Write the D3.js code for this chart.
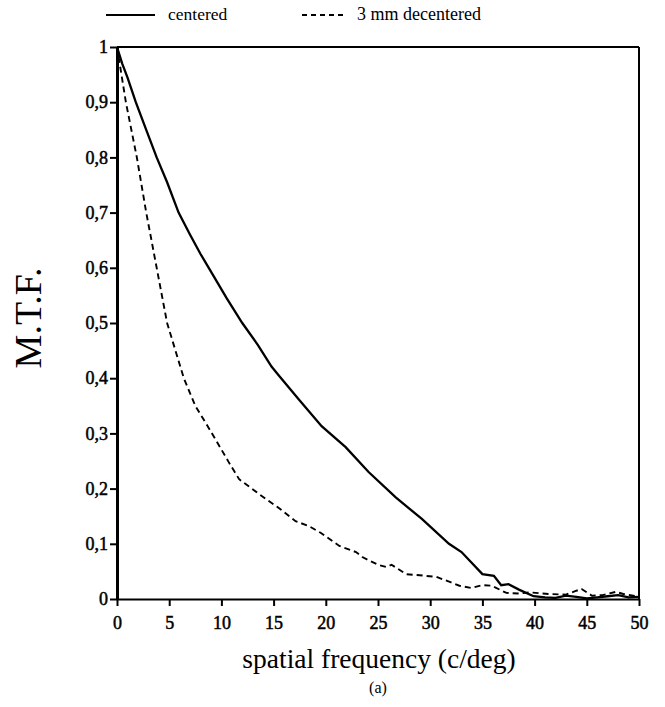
<!DOCTYPE html>
<html>
<head>
<meta charset="utf-8">
<script src="https://cdn.jsdelivr.net/npm/d3@7"></script>
<style>
body { margin: 0; background: #fff; }
svg text { font-family: "Liberation Serif", "Times New Roman", serif; fill: #000; }
</style>
</head>
<body>
<svg width="665" height="707"></svg>
<script>
// MTF curves
const centered_freq = [0, 0.5, 1, 1.8, 2.8, 3.8, 4.8, 5.9, 7, 8, 9.1, 10.5, 12, 13.5, 14.8, 15.5, 17.4, 19.6, 21.9, 24.1, 26.7, 29.2, 31.8, 33, 35, 36.1, 36.8, 37.5, 38.5, 39.9, 41, 42, 43, 44, 45, 46, 47, 48, 49, 50];
const centered_mtf = [1, 0.97, 0.945, 0.9, 0.85, 0.8, 0.755, 0.7, 0.66, 0.625, 0.59, 0.545, 0.5, 0.46, 0.421, 0.405, 0.362, 0.313, 0.275, 0.23, 0.184, 0.145, 0.1, 0.085, 0.045, 0.042, 0.025, 0.027, 0.017, 0.005, 0.003, 0.002, 0.006, 0.004, 0.001, 0.003, 0.005, 0.007, 0.003, 0.004];

const decentered_freq = [0, 0.3, 0.85, 1.9, 2.8, 3.8, 4.8, 6.4, 7.5, 9.1, 10.7, 11.7, 13.9, 15.5, 17.1, 18.4, 19.5, 21.3, 22.9, 23.5, 25, 25.8, 26.3, 27.7, 29, 30.6, 32, 32.8, 33.9, 35, 35.9, 37.3, 38.5, 39.5, 41.4, 43, 44, 44.5, 45.5, 46.5, 47.8, 48.5, 49.7, 50];
const decentered_mtf = [1, 0.965, 0.9, 0.8, 0.7, 0.6, 0.5, 0.4, 0.35, 0.3, 0.248, 0.217, 0.186, 0.165, 0.141, 0.132, 0.12, 0.096, 0.085, 0.076, 0.062, 0.058, 0.062, 0.045, 0.043, 0.04, 0.03, 0.024, 0.02, 0.025, 0.024, 0.011, 0.01, 0.012, 0.009, 0.008, 0.015, 0.018, 0.006, 0.007, 0.013, 0.009, 0.005, 0.003];

const x_ticks = [0, 5, 10, 15, 20, 25, 30, 35, 40, 45, 50];
const y_ticks = [0, 0.1, 0.2, 0.3, 0.4, 0.5, 0.6, 0.7, 0.8, 0.9, 1];

const legend_labels = ['centered', '3 mm decentered'];

var svg = d3.select("svg");

var x = d3.scaleLinear().domain([0, 50]).range([117, 639]);
var y = d3.scaleLinear().domain([0, 1]).range([599, 47]);

function fmt(v) {
	if (v == 0) return '0';
	if (v == 1) return '1';
	return v.toFixed(1).replace('.', ',');
}

//frame top and right
svg.append("line").attr("x1", x(0)).attr("x2", x(50)).attr("y1", y(1)).attr("y2", y(1))
	.attr("stroke", "#000").attr("stroke-width", 2);
svg.append("line").attr("x1", x(50)).attr("x2", x(50)).attr("y1", y(1)).attr("y2", y(0))
	.attr("stroke", "#000").attr("stroke-width", 2);

//axes
var xAxis = svg.append("g").attr("transform", "translate(0," + y(0) + ")")
	.call(d3.axisBottom(x).tickValues(x_ticks).tickSize(7).tickSizeOuter(0).tickPadding(10));
var yAxis = svg.append("g").attr("transform", "translate(" + x(0) + ",0)")
	.call(d3.axisLeft(y).tickValues(y_ticks).tickFormat(fmt).tickSize(7).tickSizeOuter(0).tickPadding(2));

xAxis.attr("font-family", null);
yAxis.attr("font-family", null);
xAxis.select(".domain").attr("stroke-width", 2.2);
yAxis.select(".domain").attr("stroke-width", 3);
svg.selectAll(".tick line").attr("stroke-width", 2);
svg.selectAll(".tick text")
	.style("font-family", '"Liberation Serif", serif')
	.style("font-size", "18px")
	.attr("stroke", "#000")
	.attr("stroke-width", 0.5);

//curves
var line = d3.line().x(d => x(d[0])).y(d => y(d[1]));

svg.append("path")
	.datum(d3.zip(centered_freq, centered_mtf))
	.attr("d", line)
	.attr("fill", "none")
	.attr("stroke", "#000")
	.attr("stroke-width", 2.3);

svg.append("path")
	.datum(d3.zip(decentered_freq, decentered_mtf))
	.attr("d", line)
	.attr("fill", "none")
	.attr("stroke", "#000")
	.attr("stroke-width", 1.9)
	.attr("stroke-dasharray", "6,4");

//legend
svg.append("line").attr("x1", 106).attr("x2", 155).attr("y1", 15).attr("y2", 15)
	.attr("stroke", "#000").attr("stroke-width", 2);
svg.append("text").attr("x", 168).attr("y", 20).style("font-size", "17.5px").text(legend_labels[0]);
svg.append("line").attr("x1", 302).attr("x2", 346).attr("y1", 15).attr("y2", 15)
	.attr("stroke", "#000").attr("stroke-width", 1.8).attr("stroke-dasharray", "5,4");
svg.append("text").attr("x", 357).attr("y", 20).style("font-size", "18px").text(legend_labels[1]);

//titles
svg.append("text")
	.attr("x", 379).attr("y", 668)
	.attr("text-anchor", "middle")
	.style("font-size", "27.5px")
	.text("spatial frequency (c/deg)");

svg.append("text")
	.attr("x", 378).attr("y", 693)
	.attr("text-anchor", "middle")
	.style("font-size", "16px")
	.text("(a)");

svg.append("text")
	.attr("transform", "translate(41,318) rotate(-90)")
	.attr("text-anchor", "middle")
	.style("font-size", "38px")
	.text("M.T.F.");
</script>
</body>
</html>
